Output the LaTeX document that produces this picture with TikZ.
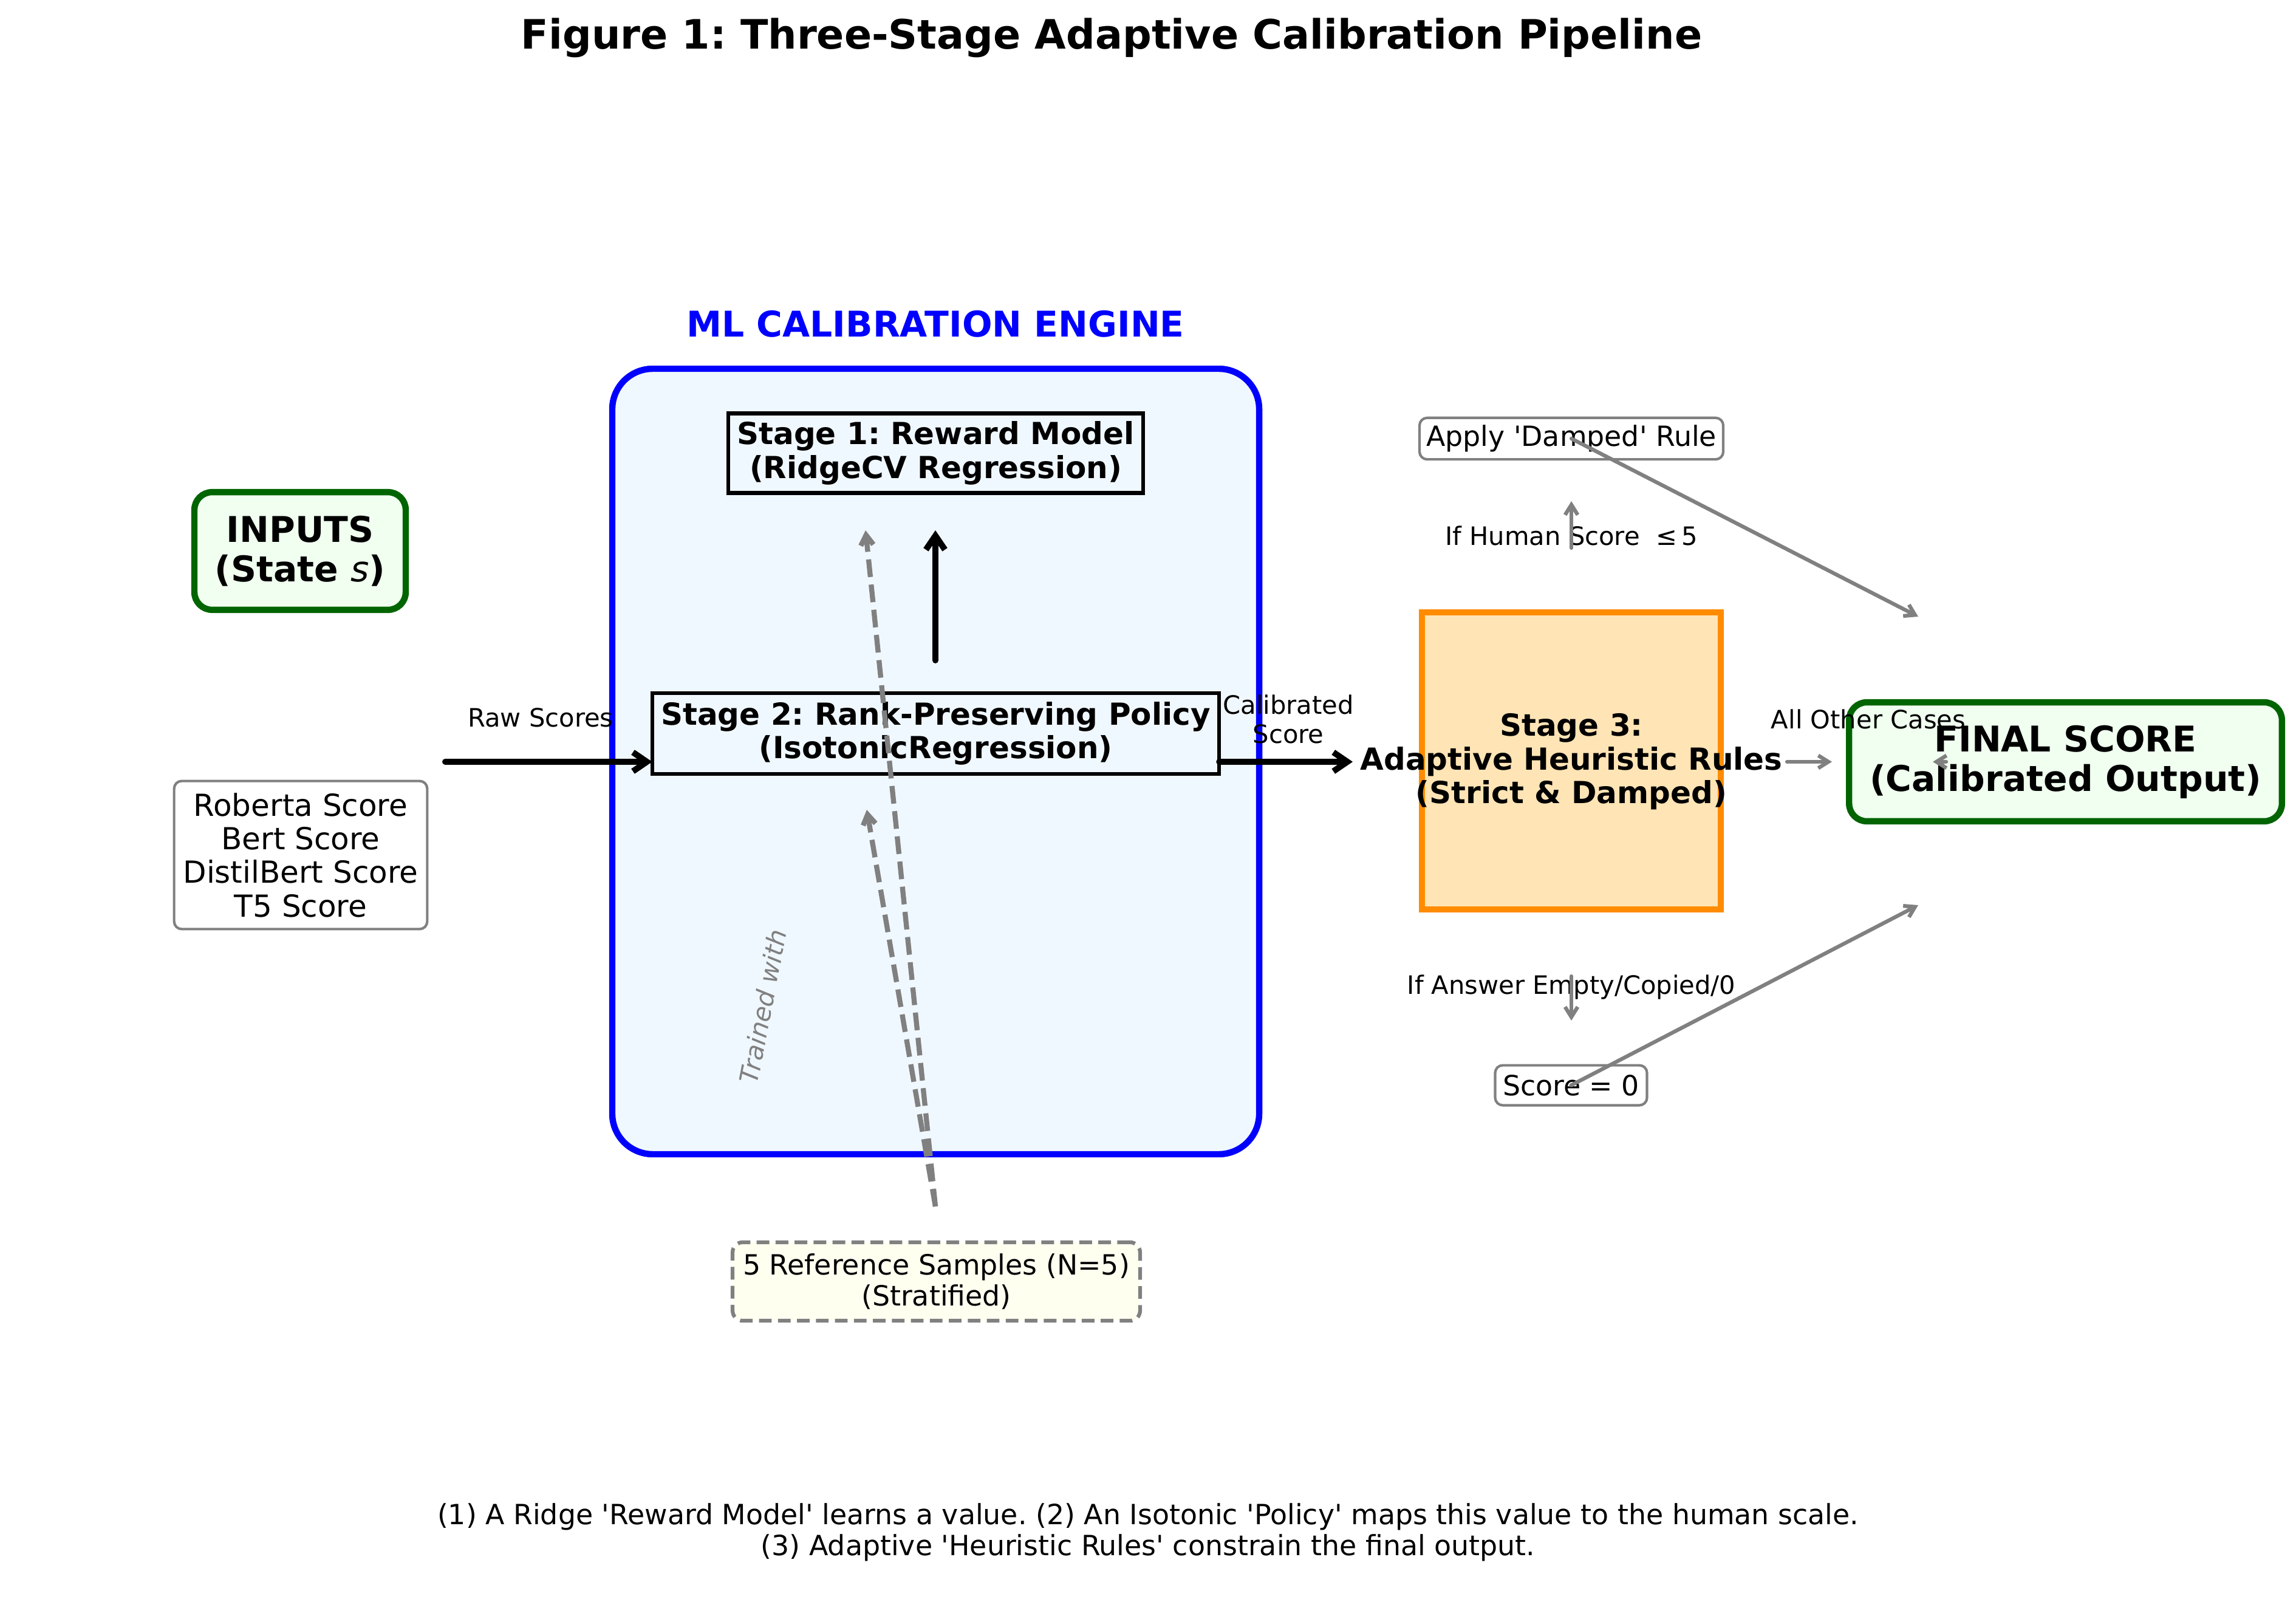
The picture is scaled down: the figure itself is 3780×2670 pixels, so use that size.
\documentclass[tikz,border=0pt]{standalone}
\usepackage{fontspec}
\setmainfont{DejaVu Sans}[Ligatures=TeXOff]
\usetikzlibrary{arrows.meta}
\definecolor{engblue}{HTML}{0000FF}
\definecolor{engfill}{HTML}{F0F8FF}
\definecolor{grn}{HTML}{006400}
\definecolor{grnfill}{HTML}{F0FFF0}
\definecolor{org}{HTML}{FF8C00}
\definecolor{orgfill}{HTML}{FFE4B5}
\definecolor{ivoryfill}{HTML}{FFFFF0}
\definecolor{gry}{HTML}{808080}
\newcommand\fsz[2]{\fontsize{#1bp}{#2bp}\selectfont}
\frenchspacing
\begin{document}
\begin{tikzpicture}[x=0.24bp,y=-0.24bp,
 box/.style={draw, align=center, inner sep=0pt, outer sep=0pt},
 stagebox/.style={box, draw=black, line width=1.5bp, fill=engfill, font=\fsz{12}{13.3}\bfseries},
 greenbox/.style={box, draw=grn, line width=2.5bp, fill=grnfill, rounded corners=7bp, font=\fsz{14}{15.6}\bfseries},
 graybox/.style={box, draw=gry, line width=1bp, fill=white, rounded corners=3bp},
 lbl/.style={inner sep=0pt, align=center},
 blackarr/.style={draw=black, line width=2.4bp, line cap=round, -{Straight Barb[length=5.5bp,width=7.5bp]}},
 grayarr/.style={draw=gry, line width=1.5bp, line cap=round, -{Straight Barb[length=4bp,width=5bp]}},
 dasharr/.style={draw=gry, line width=2bp, dash pattern=on 7bp off 3bp, -{Straight Barb[length=4bp,width=5bp]}}]
\useasboundingbox (0,0) rectangle (3780,2670);

% title
\node[lbl, font=\fsz{16}{18}\bfseries] (title) at (1830,62) {Figure 1: Three-Stage Adaptive Calibration Pipeline};

% ML engine container
\node[box, draw=engblue, fill=engfill, line width=2.5bp, rounded corners=16bp,
      minimum width=255.6bp, minimum height=310.3bp] (engine) at (1540.5,1253.5) {};
\node[lbl, text=engblue, font=\fsz{14}{16}\bfseries] (enginelbl) at (1540,533) {ML CALIBRATION ENGINE};

% stage 1 and 2
\node[stagebox, minimum width=164bp, minimum height=31.4bp] (stage1) at (1540.5,746) {Stage 1: Reward Model\\(RidgeCV Regression)};
\node[stagebox, minimum width=224bp, minimum height=32bp] (stage2) at (1540.5,1207.5) {Stage 2: Rank-Preserving Policy\\(IsotonicRegression)};

% inputs
\node[greenbox, minimum width=83.5bp, minimum height=46.5bp] (inputs) at (494,907) {INPUTS\\(State {\mdseries\itshape s})};
\node[graybox, minimum width=100bp, minimum height=58.5bp, font=\fsz{12}{13.3}] (scores) at (495,1407.5) {Roberta Score\\Bert Score\\DistilBert Score\\T5 Score};

% stage 3
\node[box, draw=org, fill=orgfill, line width=2.5bp, minimum width=118.1bp, minimum height=117.4bp] (stage3) at (2587,1252.5) {};
\node[lbl, font=\fsz{12}{13.3}\bfseries] (stage3txt) at (2587,1254) {Stage 3:\\Adaptive Heuristic Rules\\(Strict \& Damped)};

% rule boxes
\node[graybox, minimum width=120bp, minimum height=16.4bp, font=\fsz{11}{12.5}] (damped) at (2587,722) {Apply 'Damped' Rule};
\node[graybox, minimum width=60bp, minimum height=15.8bp, font=\fsz{11}{12.5}] (zero) at (2586.5,1786.5) {Score = 0};

% final
\node[greenbox, minimum width=171bp, minimum height=47bp] (final) at (3400.5,1254) {FINAL SCORE\\(Calibrated Output)};

% reference samples
\node[box, draw=gry, fill=ivoryfill, line width=1.5bp, dash pattern=on 5bp off 2.5bp, rounded corners=4bp,
      minimum width=161bp, minimum height=31bp, font=\fsz{11}{12.3}] (refs) at (1541.5,2109.5) {5 Reference Samples (N=5)\\(Stratified)};

% labels
\node[lbl, font=\fsz{10}{11.6}] (rawlbl) at (890,1181) {Raw Scores};
\node[lbl, font=\fsz{10}{11.6}] (callbl) at (2121,1184) {Calibrated\\Score};
\node[lbl, font=\fsz{10}{11.6}] (otherlbl) at (3076,1184) {All Other Cases};
\node[lbl, font=\fsz{10}{11.6}] (humanlbl) at (2587,882) {If Human Score~ ≤\,5};
\node[lbl, font=\fsz{10}{11.6}] (emptylbl) at (2587,1625) {If Answer Empty/Copied/0};
\node[lbl, font=\fsz{10}{11.6}\itshape, text=gry, rotate=79] (trained) at (1256,1657) {Trained with};

% footer
\node[lbl, font=\fsz{11}{12.3}] (footer) at (1890,2522) {(1) A Ridge 'Reward Model' learns a value. (2) An Isotonic 'Policy' maps this value to the human scale.\\(3) Adaptive 'Heuristic Rules' constrain the final output.};

% coordinates
\coordinate (rawS) at (733,1254);
\coordinate (calE) at (2227,1254);
\coordinate (upS) at (1540,1087);
\coordinate (upE) at (1540,873);
\coordinate (refTop) at (1540,1986);
\coordinate (d1) at (1425,873);
\coordinate (d2) at (1427,1333);
\coordinate (humS) at (2587,902);
\coordinate (humE) at (2587,825);
\coordinate (empS) at (2587,1607);
\coordinate (empE) at (2587,1680);
\coordinate (othS) at (2942,1254);
\coordinate (othE) at (3016,1254);
\coordinate (dampE) at (3158,1015);
\coordinate (zeroE) at (3158,1490);
\coordinate (tinyS) at (3204,1254);
\coordinate (tinyE) at (3182,1254);

% connectors
\draw[blackarr] (rawS) -- (rawS -| stage2.west);
\draw[blackarr] (stage2.east |- rawS) -- (calE);
\draw[blackarr] (upS) -- (upE);
\draw[dasharr] (refTop) -- (d1);
\draw[dasharr] (refTop) -- (d2);
\draw[grayarr] (humS) -- (humE);
\draw[grayarr] (empS) -- (empE);
\draw[grayarr] (othS) -- (othE);
\draw[grayarr] (damped.center) -- (dampE);
\draw[grayarr] (zero.center) -- (zeroE);
\draw[grayarr] (tinyS) -- (tinyE);
\end{tikzpicture}
\end{document}
